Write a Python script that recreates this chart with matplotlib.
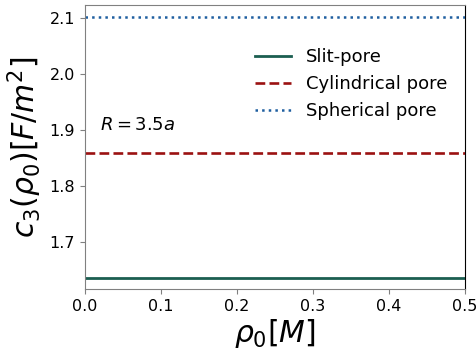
import numpy as np
import matplotlib
matplotlib.use("Agg")
import matplotlib.pyplot as plt

# concentration range and constant c3 values per pore geometry
rho0 = [0.0, 0.5]
c3_slit = [1.636, 1.636]
c3_cyl = [1.859, 1.859]
c3_sph = [2.102, 2.102]

fig = plt.figure(figsize=(4.77, 3.56), dpi=100)
ax = fig.add_axes([0.178, 0.188, 0.797, 0.798])

ax.plot(rho0, c3_slit, '-', color='#1b5e50', lw=2, label='Slit-pore')
ax.plot(rho0, c3_cyl, '--', color='#9b1111', lw=1.9, label='Cylindrical pore')
ax.plot(rho0, c3_sph, ':', color='#1f5fa0', lw=1.8, label='Spherical pore')

ax.set_xlim(0, 0.5)
ax.set_ylim(1.616, 2.123)
ax.set_yticks([1.7, 1.8, 1.9, 2.0, 2.1])
ax.tick_params(labelsize=11.5)
for s in ['left', 'bottom', 'top']:
    ax.spines[s].set_color('gray')
ax.spines['right'].set_color('black')
ax.tick_params(color='gray')

ax.set_xlabel(r'$\rho_0[M]$', fontsize=21.5, labelpad=2)
ax.set_ylabel(r'$c_3(\rho_0)[F/m^2]$', fontsize=21.5, labelpad=4)
ax.text(0.02, 1.908, r'$R = 3.5a$', fontsize=13, va='center')

ax.legend(frameon=False, fontsize=13, loc='upper right', bbox_to_anchor=(0.995, 0.905))

fig.savefig('out.png', dpi=100)
